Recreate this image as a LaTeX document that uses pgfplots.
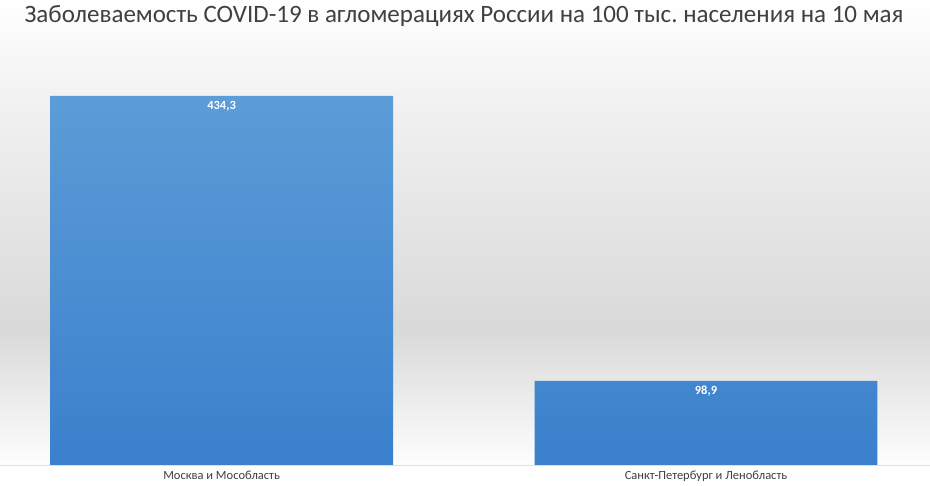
\documentclass[border=0pt]{standalone}
\usepackage{fontspec}
\setmainfont{Carlito}
\usepackage{pgfplots}
\pgfplotsset{compat=1.18}
\frenchspacing

\definecolor{barTop}{HTML}{5C9CD7}
\definecolor{barBot}{HTML}{3A80CC}
\definecolor{txt}{HTML}{404040}
\definecolor{bgMid}{HTML}{D9D9D9}
\definecolor{bgHigh}{HTML}{F3F3F3}

% background: white at top, grey band lower down, white again at the bottom
\pgfdeclareverticalshading{bg}{100bp}{color(0bp)=(white); color(25bp)=(white);
  color(26.5bp)=(white); color(41bp)=(bgMid); color(66bp)=(bgHigh);
  color(75bp)=(white); color(100bp)=(white)}

\begin{document}
\begin{tikzpicture}
  \shade[shading=bg] (0,0) rectangle (930pt,485pt);
  \node[anchor=base, text=txt, font=\fontsize{25}{29}\selectfont]
    at (464pt,462pt) {Заболеваемость COVID-19 в агломерациях России на 100 тыс. населения на 10 мая};
  \begin{axis}[
      at={(0pt,20pt)}, anchor=south west,
      scale only axis, width=930pt, height=369pt,
      xmin=-0.457, xmax=1.462, ymin=0, ymax=434.3,
      axis y line=none, axis x line=bottom,
      x axis line style={-, draw=black!12},
      major tick length=0,
      xtick={0,1},
      xticklabels={Москва и Мособласть, Санкт-Петербург и Ленобласть},
      xticklabel style={font=\fontsize{12.5}{14}\selectfont, text=txt, yshift=-3pt},
      clip=false,
    ]
    \addplot[ybar, bar width=343pt, draw=none, top color=barTop, bottom color=barBot,
      nodes near coords={\pgfmathprintnumber[use comma,fixed,fixed zerofill,precision=1,assume math mode=true]{\pgfplotspointmeta}},
      every node near coord/.append style={anchor=north, text=white,
        font=\bfseries\fontsize{12.5}{14}\selectfont, yshift=-2pt}]
      coordinates {(0,434.3) (1,98.9)};
  \end{axis}
\end{tikzpicture}
\end{document}
